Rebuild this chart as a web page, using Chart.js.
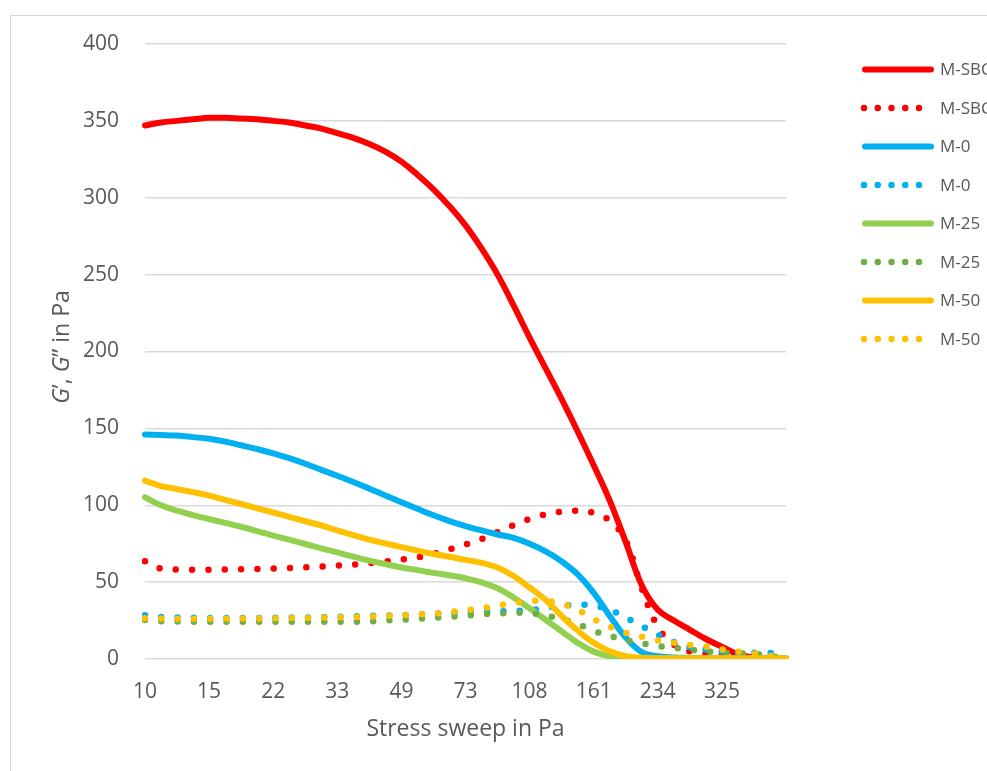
<!DOCTYPE html>
<html>
<head>
<meta charset="utf-8">
<script src="https://cdn.jsdelivr.net/npm/chart.js@4.4.0/dist/chart.umd.min.js"></script>
<style>
html,body{margin:0;padding:0;background:#fff;overflow:hidden}
canvas{display:block}
</style>
</head>
<body>
<canvas id="c" width="987" height="771"></canvas>
<script>
// ---- data ----
const stress = ['10','11','12','13','15','16','18','20','22','25','27','30','33','36','40','44','49','54','60','66','73','80','89','98','108','119','132','146','161','178','195','214','234','255','277','300','325','352','381','412','446'];
const shownTicks = ['10','15','22','33','49','73','108','161','234','325'];
const yTickLabels = [0,50,100,150,200,250,300,350,400];

const sbcStorage = [347,349,350,351,352,352,351.5,351,350,349,347,345,342,339,335,330,323.5,315,305.5,294.5,282,267,250,230,209,189,169,148,126,103,76,48,32,25,19,13,8,3,1,0.5,0.3];
const sbcLoss    = [63.5,58.7,58.2,58.1,58.1,58.2,58.3,58.5,58.8,59.2,59.7,60.2,60.7,61.4,62.3,63.4,64.7,66,68.4,71.3,74.5,78,82.5,87,91,94,95.8,96.3,95,90,77,46,21,9.5,5,3.5,2.3,1.5,1,0.7,0.5];
const m0Storage  = [146,145.7,145.3,144.3,143.2,141.4,139,136.5,133.8,130.6,127,123,119.2,115.1,110.8,106.4,102,97.7,93.5,89.7,86.5,83.6,81,78.8,75,70,63.5,55,43,28,14,4.5,1.8,1,0.7,0.5,0.4,0.3,0.3,0.3,0.3];
const m0Loss     = [28.5,27.3,27,26.8,26.7,26.7,26.7,26.7,26.8,26.9,27,27.2,27.4,27.7,28,28.3,28.6,29,29.4,29.8,30.2,30.6,31,31.3,31.7,33.3,34.6,35.3,34.7,32,27,21.5,15.7,11.2,7.8,6.2,4.8,4.1,4.1,4,1];
const m25Storage = [105.2,100,96.5,93.6,91,88.5,86,83.2,80.3,77.6,74.8,72,69.3,66.6,64,61.7,59.5,57.8,56,54.5,52.5,49.8,46,40,33,25.5,18,10.5,4.8,1.8,0.8,0.5,0.4,0.3,0.3,0.3,0.3,0.3,0.3,0.3,0.3];
const m25Loss    = [25.4,24.6,24.4,24.3,24.2,24.2,24.2,24.2,24.2,24.2,24.2,24.3,24.3,24.3,24.4,25,25.6,26.2,26.9,27.4,28.1,29.1,29.6,30,29.9,28.2,26,22.8,18.3,15,12.2,10.2,8.5,7.3,6,5,4.2,3.7,3.2,2,0.5];
const m50Storage = [116,112.5,110.5,108.5,106.3,103.5,100.8,98,95.3,92.5,89.6,86.9,83.6,80.5,77.6,75.2,72.8,70.5,68.3,66.5,64.5,62.5,59.5,54,46.5,38.5,28,18.5,10.5,5,1.8,0.8,0.5,0.5,0.5,0.5,0.5,0.5,0.5,0.5,0.5];
const m50Loss    = [26.5,26.3,26.2,26.2,26.2,26.2,26.3,26.4,26.5,26.6,26.7,26.9,27.1,27.3,27.6,28,28.5,28.9,29.5,30.5,31.6,33,34.6,36.5,37.6,37.8,36,32,26,21,17.1,14.6,12,10.6,9.1,8,6.3,4.8,3.7,2.1,0.5];

const seriesNames = ['M-SBC','M-SBC','M-0','M-0','M-25','M-25','M-50','M-50'];
const seriesData = [sbcStorage, sbcLoss, m0Storage, m0Loss, m25Storage, m25Loss, m50Storage, m50Loss];
const seriesColors = ['#FF0000','#FF0000','#00B0F0','#00B0F0','#92D050','#70AD47','#FFC000','#FFC000'];
const seriesDotted = [false,true,false,true,false,true,false,true];

const TEXT = '#595959';
const FONT = 'Open Sans';

const datasets = seriesData.map((d, i) => ({
  label: seriesNames[i],
  data: d,
  borderColor: seriesColors[i],
  backgroundColor: seriesColors[i],
  borderWidth: seriesDotted[i] ? 6.5 : 6,
  borderDash: seriesDotted[i] ? [0, 16.3] : [],
  borderCapStyle: 'round',
  borderJoinStyle: 'round',
  pointRadius: 0,
  pointHoverRadius: 0,
  tension: 0.4,
  fill: false,
  order: seriesData.length - i
}));

const framePlugin = {
  id: 'frame',
  beforeDraw(chart) {
    const ctx = chart.ctx;
    ctx.save();
    ctx.fillStyle = '#fff';
    ctx.fillRect(0, 0, chart.width, chart.height);
    ctx.strokeStyle = '#d9d9d9';
    ctx.lineWidth = 1;
    ctx.strokeRect(10.5, 15.5, 1100, 900);
    ctx.restore();
  }
};

const yTitlePlugin = {
  id: 'yTitle',
  afterDraw(chart) {
    const ctx = chart.ctx;
    const parts = [['italic','G'],['normal','\u2019, '],['italic','G'],['normal','\u201D in Pa']];
    const size = 23;
    ctx.save();
    ctx.translate(62, 347);
    ctx.rotate(-Math.PI / 2);
    ctx.fillStyle = TEXT;
    ctx.textBaseline = 'middle';
    let total = 0;
    parts.forEach(p => { ctx.font = p[0] + ' ' + size + 'px "' + FONT + '"'; total += ctx.measureText(p[1]).width; });
    let x = -total / 2;
    parts.forEach(p => { ctx.font = p[0] + ' ' + size + 'px "' + FONT + '"'; ctx.fillText(p[1], x, 0); x += ctx.measureText(p[1]).width; });
    ctx.restore();
  }
};

const legendPlugin = {
  id: 'manualLegend',
  afterDraw(chart) {
    const ctx = chart.ctx;
    chart.data.datasets.forEach((ds, i) => {
      const y = 69.5 + i * 38.5;
      const dotted = ds.borderDash.length > 0;
      ctx.save();
      ctx.strokeStyle = ds.borderColor;
      ctx.lineWidth = dotted ? 6.5 : 6;
      ctx.lineCap = 'round';
      ctx.setLineDash(dotted ? [0, 13.75] : []);
      ctx.beginPath();
      ctx.moveTo(dotted ? 864 : 865, y);
      ctx.lineTo(dotted ? 920 : 931, y);
      ctx.stroke();
      ctx.setLineDash([]);
      ctx.fillStyle = TEXT;
      ctx.font = '17px "' + FONT + '"';
      ctx.textBaseline = 'middle';
      ctx.textAlign = 'left';
      ctx.fillText(ds.label, 940, y + 1);
      ctx.restore();
    });
  }
};

new Chart(document.getElementById('c'), {
  type: 'line',
  data: { labels: stress, datasets },
  options: {
    responsive: false,
    animation: false,
    devicePixelRatio: 1,
    layout: { padding: { top: 44, right: 201, left: 0, bottom: 0 } },
    plugins: { legend: { display: false }, tooltip: { enabled: false } },
    scales: {
      x: {
        type: 'category',
        offset: false,
        grid: { display: false, drawTicks: false },
        border: { display: false },
        ticks: {
          autoSkip: false, maxRotation: 0, minRotation: 0, padding: 20,
          color: TEXT, font: { family: FONT, size: 21 },
          callback(v, i) { const l = stress[i]; return shownTicks.includes(l) ? l : ''; }
        },
        title: { display: true, text: 'Stress sweep in Pa', color: TEXT, font: { family: FONT, size: 23 }, padding: { top: 0, bottom: 28 } },
        afterFit(s) { s.height = 112; }
      },
      y: {
        min: yTickLabels[0], max: yTickLabels[yTickLabels.length - 1],
        ticks: { stepSize: yTickLabels[1] - yTickLabels[0], padding: 26, color: TEXT, font: { family: FONT, size: 21 } },
        grid: { color: '#d9d9d9', lineWidth: 1.5, drawTicks: false },
        border: { display: false },
        afterFit(s) { s.width = 145; }
      }
    }
  },
  plugins: [framePlugin, yTitlePlugin, legendPlugin]
});
</script>
</body>
</html>
